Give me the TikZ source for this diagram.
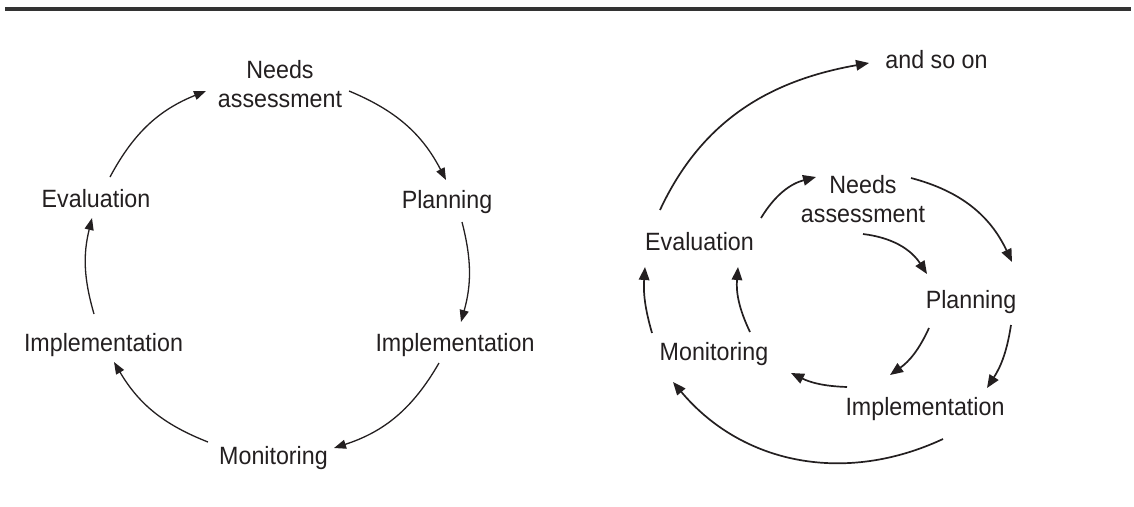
\documentclass[tikz,border=0pt]{standalone}
\usepackage{fontspec}
\usepackage{tikz}
\usetikzlibrary{arrows.meta}
\newfontfamily\cyclefont{Liberation Sans}[FakeStretch=0.93]
\definecolor{inkgray}{HTML}{231F20}
\tikzset{
  lbl/.style={font=\cyclefont\fontsize{25}{29}\selectfont, text=inkgray, inner sep=0pt},
  flow/.style={-{Triangle[length=12pt,width=9pt]}, line width=1.3pt, draw=inkgray},
  spiral/.style={-{Triangle[length=13pt,width=10.5pt]}, line width=1.7pt, draw=inkgray},
}

\begin{document}
\begin{tikzpicture}[x=1pt, y=1pt]
    \useasboundingbox (0,0) rectangle (1134,-506);
    % rule across the top
    \draw[line width=4pt, black!80] (5,-9) -- (1131,-9);

    % closed cycle
    \node[lbl, align=center] (needs) at (280,-84) {Needs\\assessment};
    \node[lbl, anchor=base] (plan) at (447,-208) {Planning};
    \node[lbl, anchor=base] (implA) at (455,-351) {Implementation};
    \node[lbl, anchor=base] (mon) at (273.5,-464) {Monitoring};
    \node[lbl, anchor=base] (implB) at (103.5,-351) {Implementation};
    \node[lbl, anchor=base] (eval) at (96,-207) {Evaluation};

    \draw[flow] ([shift={(14,30)}]eval.base) to[bend left=20] ([shift={(-74,-7)}]needs.center);
    \draw[flow] ([shift={(69,-7)}]needs.center) to[bend left=20] ([shift={(-1,28)}]plan.base);
    \draw[flow] ([shift={(15,-14)}]plan.base) to[bend left=15] ([shift={(6,29)}]implA.base);
    \draw[flow] ([shift={(-16,-12)}]implA.base) to[bend left=21] ([shift={(60.5,16)}]mon.base);
    \draw[flow] ([shift={(-65.5,22)}]mon.base) to[bend left=19] ([shift={(10.5,-11)}]implB.base);
    \draw[flow] ([shift={(-9.5,37)}]implB.base) to[bend left=15] ([shift={(-4,-11)}]eval.base);

    % open spiral
    \node[lbl, anchor=base] (sMore) at (936.5,-68) {and so on};
    \node[lbl, align=center] (sNeeds) at (863,-199) {Needs\\assessment};
    \node[lbl, anchor=base] (sEval) at (699.5,-250) {Evaluation};
    \node[lbl, anchor=base] (sPlan) at (971,-308) {Planning};
    \node[lbl, anchor=base] (sMon) at (714,-360) {Monitoring};
    \node[lbl, anchor=base] (sImpl) at (925,-415) {Implementation};

    % inner turn
    \draw[spiral] ([shift={(61.5,32)}]sEval.base) to[bend left=22] ([shift={(-47,22)}]sNeeds.center);
    \draw[spiral] ([shift={(0,-35)}]sNeeds.center) to[bend left=25] ([shift={(-44,34)}]sPlan.base);
    \draw[spiral] ([shift={(-42,-20)}]sPlan.base) to[bend left=15] ([shift={(-35,40)}]sImpl.base);
    \draw[spiral] ([shift={(-78,28)}]sImpl.base) to[bend left=12] ([shift={(77,-13)}]sMon.base);
    \draw[spiral] ([shift={(36,28)}]sMon.base) to[bend left=15] ([shift={(38.5,-17)}]sEval.base);
    % outer turn
    \draw[spiral] ([shift={(48,21)}]sNeeds.center) to[bend left=25] ([shift={(41,46)}]sPlan.base);
    \draw[spiral] ([shift={(40,-17)}]sPlan.base) to[bend left=12] ([shift={(62,27)}]sImpl.base);
    \draw[spiral] ([shift={(18,-24)}]sImpl.base) to[out=205,in=-50] ([shift={(-41,-22)}]sMon.base);
    \draw[spiral] ([shift={(-62,27)}]sMon.base) to[bend left=10] ([shift={(-54.5,-17)}]sEval.base);
    \draw[spiral] ([shift={(-39.5,40)}]sEval.base) to[out=65,in=190] ([shift={(-67.5,5)}]sMore.base);
\end{tikzpicture}
\end{document}
